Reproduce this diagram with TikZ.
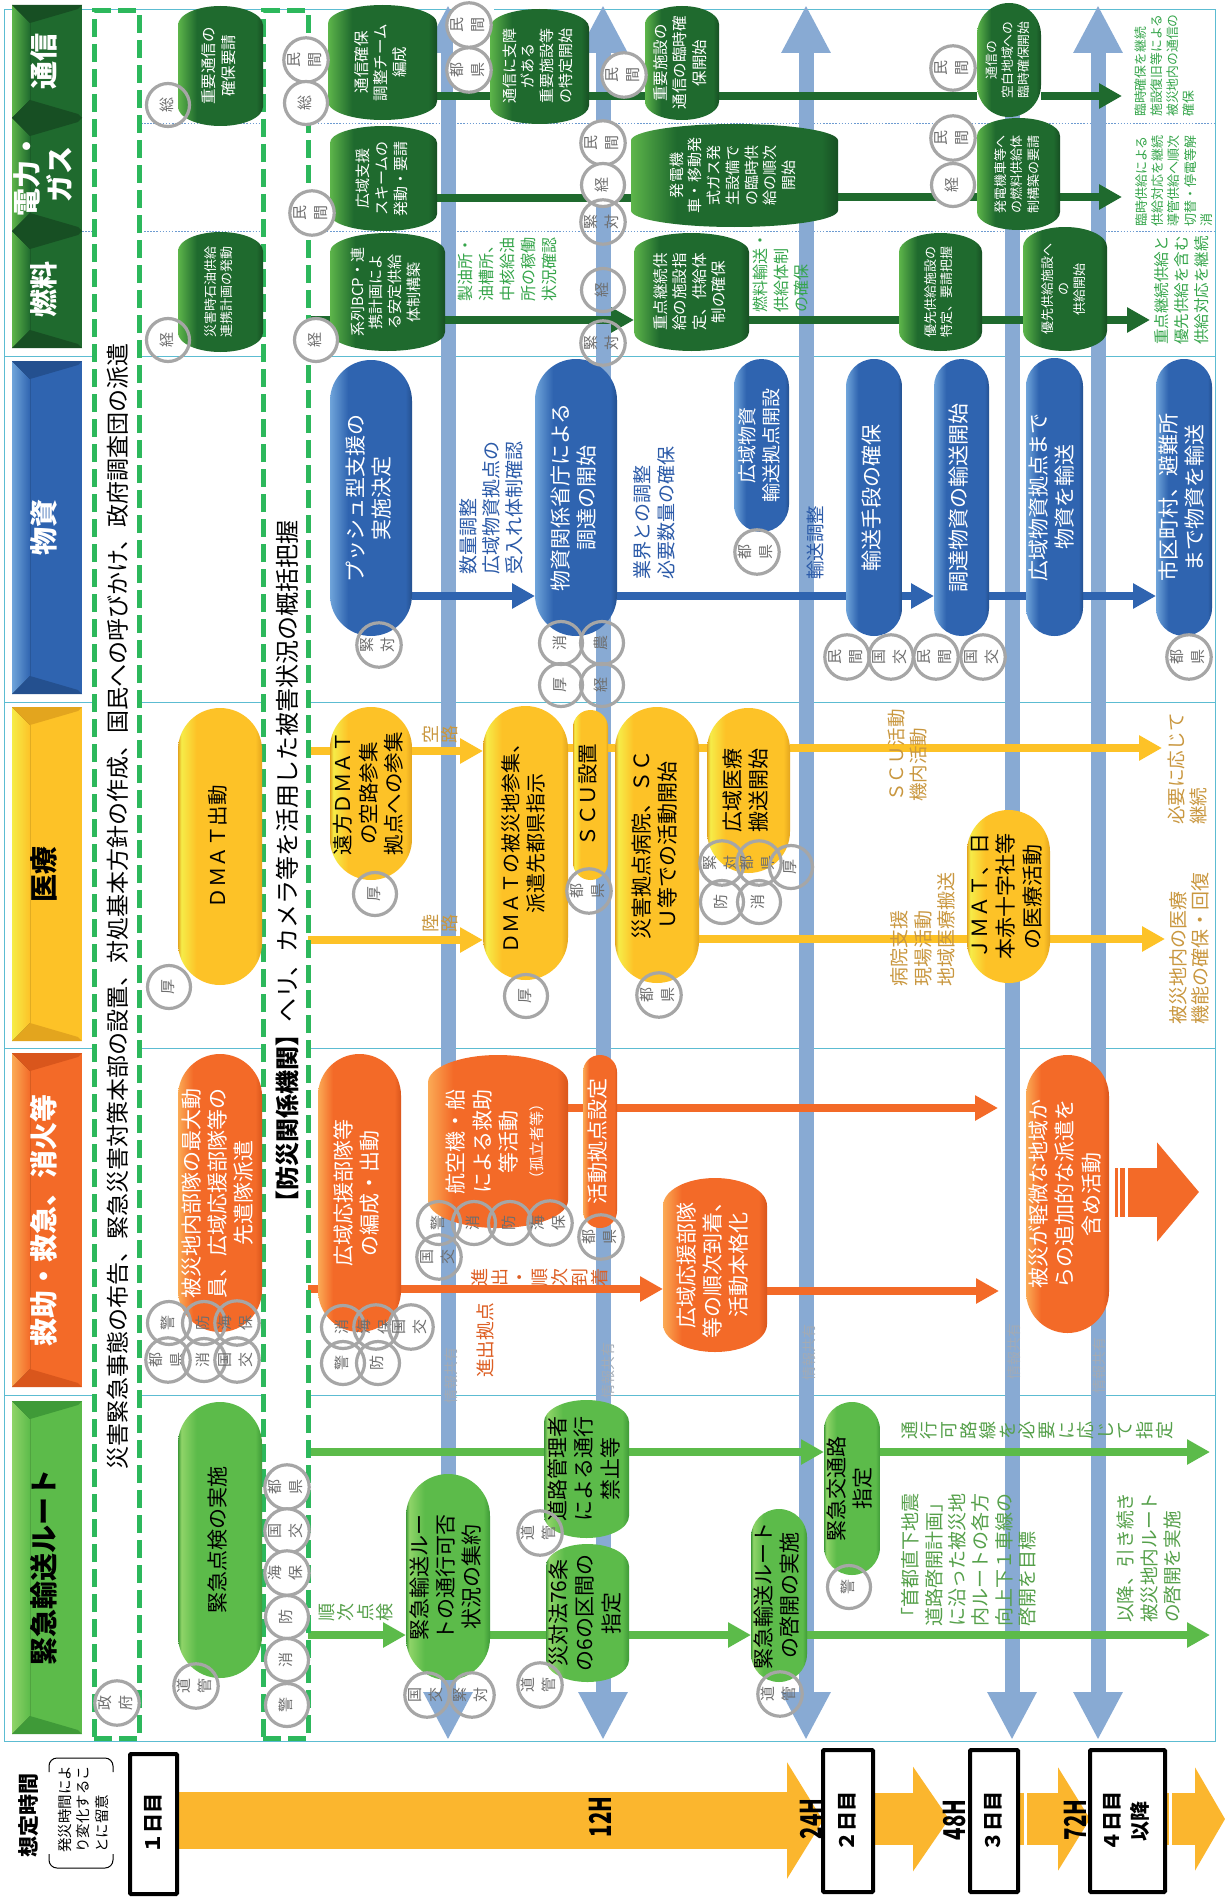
\documentclass[tikz,border=0pt]{standalone}
\usepackage{fontspec}
\usepackage{graphicx}
\setmainfont{Noto Sans CJK JP}
\usetikzlibrary{arrows.meta,shapes.geometric}
\definecolor{baseD}{HTML}{1F6A2E}\definecolor{liteD}{HTML}{5DB54A}\definecolor{darkD}{HTML}{174F23}
\definecolor{baseG}{HTML}{5CBB4A}\definecolor{liteG}{HTML}{8FD468}\definecolor{darkG}{HTML}{3F9A38}
\definecolor{baseB}{HTML}{2F64B0}\definecolor{liteB}{HTML}{6FA4DA}\definecolor{darkB}{HTML}{24508F}
\definecolor{baseY}{HTML}{FDC227}\definecolor{liteY}{HTML}{F6EC48}\definecolor{darkY}{HTML}{E3A51E}
\definecolor{baseO}{HTML}{F36A28}\definecolor{liteO}{HTML}{FBAA55}\definecolor{darkO}{HTML}{D9561C}
\definecolor{barc}{HTML}{88AAD3}
\definecolor{frm}{HTML}{5CBCD2}
\definecolor{dots}{HTML}{6D9BD1}
\definecolor{dashg}{HTML}{2DB85C}
\definecolor{tlc}{HTML}{FBB62E}
\definecolor{lblue}{HTML}{2B5AA8}
\definecolor{lyel}{HTML}{C9973F}
\definecolor{lora}{HTML}{DD5F24}
\definecolor{lgrn}{HTML}{55A04A}
\definecolor{ldg}{HTML}{35A54A}
\definecolor{ringc}{HTML}{A6A6A6}
\definecolor{ringt}{HTML}{6E6E6E}
\definecolor{infot}{HTML}{A3ABB5}
\pgfdeclarehorizontalshading{pillD}{100bp}{color(0bp)=(liteD); color(25bp)=(liteD); color(36bp)=(baseD); color(71bp)=(baseD); color(75bp)=(darkD); color(100bp)=(darkD)}
\pgfdeclarehorizontalshading{pillG}{100bp}{color(0bp)=(darkG); color(25bp)=(darkG); color(27bp)=(liteG); color(36bp)=(baseG); color(71bp)=(baseG); color(75bp)=(darkG); color(100bp)=(darkG)}
\pgfdeclarehorizontalshading{pillB}{100bp}{color(0bp)=(liteB); color(25bp)=(liteB); color(36bp)=(baseB); color(71bp)=(baseB); color(75bp)=(darkB); color(100bp)=(darkB)}
\pgfdeclarehorizontalshading{pillY}{100bp}{color(0bp)=(darkY); color(25bp)=(darkY); color(27bp)=(liteY); color(36bp)=(baseY); color(71bp)=(baseY); color(75bp)=(darkY); color(100bp)=(darkY)}
\pgfdeclarehorizontalshading{pillO}{100bp}{color(0bp)=(liteO); color(25bp)=(liteO); color(34bp)=(baseO); color(71bp)=(baseO); color(75bp)=(darkO); color(100bp)=(darkO)}
\pgfdeclarelayer{bg}
\pgfsetlayers{bg,main}
\tikzset{
  shD/.style={shade,shading=pillD}, shG/.style={shade,shading=pillG}, shB/.style={shade,shading=pillB},
  shY/.style={shade,shading=pillY}, shO/.style={shade,shading=pillO},
  txD/.style={text=white}, txG/.style={text=black}, txB/.style={text=white}, txY/.style={text=black}, txO/.style={text=white},
  conn/.style={line width=7.5pt,-{Triangle[length=23pt,width=24pt]}},
  plain/.style={line width=7.5pt},
  cD/.style={conn,draw=baseD,fill=baseD}, pD/.style={plain,draw=baseD},
  cB/.style={conn,draw=baseB,fill=baseB}, pB/.style={plain,draw=baseB},
  cY/.style={conn,draw=baseY,fill=baseY}, pY/.style={plain,draw=baseY},
  cO/.style={conn,draw=baseO,fill=baseO}, pO/.style={plain,draw=baseO},
  cG/.style={conn,draw=baseG,fill=baseG}, pG/.style={plain,draw=baseG},
  bar/.style={line width=15pt,draw=barc,fill=barc,{Triangle[length=48pt,width=46pt]}-{Triangle[length=48pt,width=46pt]}},
  barone/.style={line width=15pt,draw=barc,fill=barc,{Triangle[length=48pt,width=46pt]}-},
  framel/.style={draw=frm,line width=1pt},
  dotl/.style={draw=dots,line width=1pt,dash pattern=on 1.5pt off 1.6pt},
  dbox/.style={draw=dashg,fill=white,line width=5pt,dash pattern=on 18pt off 7pt,inner sep=0,outer sep=0,minimum width=45pt},
  dayb/.style={draw=black,fill=white,line width=4pt,inner sep=0,outer sep=0,rounded corners=1pt},
  ringw/.style={circle,draw=ringc,line width=3.2pt,fill=white,minimum size=43pt,inner sep=0,text=ringt},
  ringn/.style={circle,draw=ringc,line width=3.2pt,minimum size=43pt,inner sep=0,text=ringt},
  tl/.style={draw=tlc,fill=tlc}
}
\newcommand\vtxt[1]{\rotatebox{90}{\begin{tabular}{@{}c@{}}#1\end{tabular}}}
\newcommand\pill[8]{%
  \pgfmathsetmacro\mypw{#4-#2}\pgfmathsetmacro\myph{#5-#3}%
  \pgfmathsetmacro\mypr{(\myph/\mypw>=1.7)?\mypw/2:0.16*\myph}%
  \pgfmathsetmacro\myprx{\mypw/2}\pgfmathsetmacro\myld{#7*1.25}%
  \path[sh#6] ({#2},{#3+\mypr}) arc[start angle=180,end angle=0,x radius=\myprx pt,y radius=\mypr pt] -- ({#4},{#5-\mypr}) arc[start angle=0,end angle=-180,x radius=\myprx pt,y radius=\mypr pt] -- cycle;
  \node[tx#6,inner sep=0,outer sep=0,minimum width=\mypw pt,minimum height=\myph pt,font=\fontsize{#7}{\myld}\selectfont] (#1) at ({(#2+#4)/2},{(#3+#5)/2}) {\vtxt{#8}};
}
\newcommand\hdr[7]{%
  \fill[base#6] (#2,#3) rectangle (#4,#5);
  \fill[left color=lite#6,right color=base#6] (#2,#3) -- ({#2+18},{#3+18}) -- ({#2+18},{#5-18}) -- (#2,#5) -- cycle;
  \fill[dark#6] (#2,#3) -- ({#2+18},{#3+18}) -- ({#4-4},{#3+4}) -- (#4,#3) -- cycle;
  \fill[dark#6] (#2,#5) -- ({#2+18},{#5-18}) -- ({#4-4},{#5-4}) -- (#4,#5) -- cycle;
  \node[tx#6,inner sep=0,font=\fontsize{28}{32}\selectfont\bfseries] (#1) at ({(#2+#4)/2},{(#3+#5)/2}) {\vtxt{#7}};
}
% name x y colour size leading anchor text
\newcommand\lab[8]{\node[rotate=90,anchor=#7,align=left,text=#4,inner sep=0,font=\fontsize{#5}{#6}\selectfont] (#1) at (#2,#3) {#8};}
\newcommand\labc[7]{\node[rotate=90,align=center,text=#4,inner sep=0,font=\fontsize{#5}{#6}\selectfont] (#1) at (#2,#3) {#7};}
\newcounter{rc}
\newcommand\rw[3]{\stepcounter{rc}\node[ringw,font=\fontsize{15}{21}\selectfont] (rg\arabic{rc}) at (#1,#2) {\vtxt{#3}};}
\newcommand\rn[3]{\stepcounter{rc}\node[ringn,font=\fontsize{15}{21}\selectfont] (rg\arabic{rc}) at (#1,#2) {\vtxt{#3}};}
\begin{document}
\begin{tikzpicture}[x=1pt,y=-1pt]
\useasboundingbox (0,0) rectangle (1225,1897);
\begin{pgfonlayer}{bg}
\fill[white] (0,0) rectangle (1225,1897);
\draw[framel] (4,10) rectangle (1215,1741);
\draw[framel] (4,356) -- (1215,356);
\draw[framel] (4,702) -- (1215,702);
\draw[framel] (4,1048) -- (1215,1048);
\draw[framel] (4,1395) -- (1215,1395);
\draw[dotl] (141,124) -- (1215,124);
\draw[dotl] (82,231) -- (1215,231);
\coordinate (A1t) at (448,5); \coordinate (A1b) at (448,1740);
\coordinate (A2t) at (603,5); \coordinate (A2b) at (603,1740);
\coordinate (A3t) at (806,5); \coordinate (A3b) at (806,1740);
\coordinate (A4t) at (1012,30); \coordinate (A4b) at (1012,1740);
\coordinate (A5t) at (1098,5); \coordinate (A5b) at (1098,1740);
\draw[bar] (A1b) -- (A1t);
\draw[bar] (A2b) -- (A2t);
\draw[bar] (A3b) -- (A3t);
\draw[barone] (A4b) -- (A4t);
\draw[bar] (A5b) -- (A5t);
\fill[white] (453,2) rectangle (494,92);
\end{pgfonlayer}
% dashed bands
\node[dbox,minimum height=1727pt] (box1) at (116.5,874.5) {};
\node[dbox,minimum height=1727pt] (box2) at (285.5,874.5) {};
\lab{t1}{118}{1470}{black}{23}{27}{west}{災害緊急事態の布告、緊急災害対策本部の設置、対処基本方針の作成、国民への呼びかけ、政府調査団の派遣}
\node[rotate=90,anchor=west,text=black,inner sep=0,font=\fontsize{24}{28}\selectfont] (t2) at (287,1215) {\textbf{【防災関係機関】}ヘリ、カメラ等を活用した被害状況の概括把握};
% headers
\hdr{hTs}{12}{5}{82}{118}{D}{通信}
\hdr{hDn}{12}{118}{82}{231}{D}{電力・\\ガス}
\hdr{hNe}{12}{231}{82}{348}{D}{燃料}
\hdr{hBu}{12}{361}{82}{694}{B}{物資}
\hdr{hIr}{12}{707}{82}{1041}{Y}{医療}
\hdr{hKy}{12}{1053}{82}{1387}{O}{救助・救急、消火等}
\hdr{hKi}{12}{1401}{82}{1734}{G}{緊急輸送ルート}
% fuel / power / comms
\pill{a1}{178}{6}{263}{126}{D}{15.5}{重要通信の\\確保要請}
\pill{a2}{328}{5}{437}{120}{D}{15.5}{通信確保\\調整チーム\\編成}
\pill{a3}{490}{9}{589}{124}{D}{15}{通信に支障\\がある\\重要施設等\\の特定開始}
\pill{a4}{645}{6}{719}{120}{D}{15.5}{重要施設の\\通信の臨時確\\保開始}
\pill{a5}{977}{3}{1041}{117}{D}{12.8}{通信の\\空白地域への\\臨時確保開始}
\pill{b1}{330}{126}{437}{231}{D}{15}{広域支援\\スキームの\\発動・要請}
\pill{b2}{631}{124}{838}{227}{D}{15}{発電機\\車・移動発\\式ガス発\\生設備で\\の臨時供\\給の順次\\開始}
\pill{b3}{977}{118}{1060}{230}{D}{13}{発電機車等へ\\の燃料供給体\\制構築の要請}
\pill{c0}{178}{232}{263}{352}{D}{13}{災害時石油供給\\連携計画の発動}
\pill{c1}{330}{233}{445}{351}{D}{15}{系列BCP・連\\携計画によ\\る安定供給\\体制構築}
\pill{c2}{634}{233}{749}{351}{D}{15.5}{重点継続供\\給の施設指\\定、供給体\\制の確保}
\pill{c3}{899}{233}{982}{351}{D}{13}{優先供給施設の\\特定、要請把握}
\pill{c4}{1023}{227}{1107}{351}{D}{13}{優先供給施設へ\\の\\供給開始}
% goods
\pill{e1}{330}{360}{412}{636}{B}{21}{プッシュ型支援の\\実施決定}
\pill{e2}{535}{359}{617}{636}{B}{21}{物資関係省庁による\\調達の開始}
\pill{e3}{734}{359}{789}{532}{B}{19}{広域物資\\輸送拠点開設}
\pill{e4}{846}{359}{902}{636}{B}{21}{輸送手段の確保}
\pill{e5}{934}{359}{989}{636}{B}{21}{調達物資の輸送開始}
\pill{e6}{1026}{358}{1083}{636}{B}{21}{広域物資拠点まで\\物資を輸送}
\pill{e7}{1156}{359}{1212}{636}{B}{21}{市区町村、避難所\\まで物資を輸送}
% medical
\pill{f1}{178}{708}{262}{985}{Y}{20.5}{ＤＭＡＴ出動}
\pill{f2}{330}{707}{412}{880}{Y}{20.5}{遠方ＤＭＡＴ\\の空路参集\\拠点への参集}
\pill{f3}{483}{706}{568}{980}{Y}{20}{ＤＭＡＴの被災地参集、\\派遣先都県指示}
\pill{f4}{573}{710}{608}{880}{Y}{20.5}{ＳＣＵ設置}
\pill{f5}{615}{707}{699}{983}{Y}{21}{災害拠点病院、ＳＣ\\Ｕ等での活動開始}
\pill{f6}{707}{708}{790}{873}{Y}{21}{広域医療\\搬送開始}
\pill{f7}{967}{810}{1050}{983}{Y}{21}{ＪＭＡＴ、日\\本赤十字社等\\の医療活動}
% rescue
\pill{g1}{178}{1054}{262}{1332}{O}{21}{被災地内部隊の最大動\\員、広域応援部隊等の\\先遣隊派遣}
\pill{g2}{318}{1054}{401}{1332}{O}{21}{広域応援部隊等\\の編成・出動}
\pill{g3}{428}{1055}{568}{1228}{O}{21}{航空機・船\\による救助\\等活動\\{\fontsize{15}{20}\selectfont （孤立者等）}}
\pill{g4}{583}{1055}{617}{1228}{O}{21}{活動拠点設定}
\pill{g5}{663}{1178}{767}{1352}{O}{21}{広域応援部隊\\等の順次到着、\\活動本格化}
\pill{g6}{1026}{1055}{1109}{1333}{O}{21}{被災が軽微な地域か\\らの追加的な派遣を\\含め活動}
% routes
\pill{h1}{178}{1402}{262}{1678}{G}{21}{緊急点検の実施}
\pill{h2}{406}{1474}{490}{1680}{G}{21}{緊急輸送ルー\\トの通行可否\\状況の集約}
\pill{h3}{544}{1400}{629}{1538}{G}{21}{道路管理者\\による通行\\禁止等}
\pill{h4}{546}{1544}{629}{1682}{G}{21}{災対法76条\\の6の区間の\\指定}
\pill{h5}{751}{1509}{807}{1682}{G}{21}{緊急輸送ルート\\の啓開の実施}
\pill{h6}{824}{1402}{880}{1575}{G}{21}{緊急交通路\\指定}
% connectors
\begin{pgfonlayer}{bg}
\coordinate (endA) at (1122,96); \coordinate (endB) at (1122,197); \coordinate (endC) at (1150,320);
\draw[pD] (a2.east |- 0,96) -- (a3.west |- 0,96);
\draw[pD] (a3.east |- 0,96) -- (a4.west |- 0,96);
\draw[pD] (a4.east |- 0,96) -- (a5.west |- 0,96);
\draw[cD] (a5.east |- 0,96) -- (endA);
\draw[pD] (b1.east |- 0,198) -- (b2.west |- 0,198);
\draw[pD] (b2.east |- 0,197) -- (b3.west |- 0,197);
\draw[cD] (b3.east |- 0,197) -- (endB);
\draw[pD] (box2.east |- 0,320) -- (c1.west |- 0,320);
\draw[cD] (c1.east |- 0,320) -- (c2.west |- 0,320);
\draw[pD] (c2.east |- 0,320) -- (c3.west |- 0,320);
\draw[pD] (c3.east |- 0,320) -- (c4.west |- 0,320);
\draw[cD] (c4.east |- 0,320) -- (endC);
\draw[cB] (e1.east |- 0,596) -- (e2.west |- 0,596);
\draw[cB] (e2.east |- 0,596) -- (e5.west |- 0,596);
\draw[pB] (e5.east |- 0,596) -- (e6.west |- 0,596);
\draw[cB] (e6.east |- 0,596) -- (e7.west |- 0,596);
\coordinate (endF) at (1162,748); \coordinate (endJ) at (1165,939);
\draw[cY] (box2.east |- 0,751) -- (f3.west |- 0,751);
\draw[cY] (box2.east |- 0,940) -- (f3.west |- 0,940);
\draw[pY] (f3.east |- 0,748) -- (f4.west |- 0,748);
\draw[pY] (f4.east |- 0,748) -- (f5.west |- 0,748);
\draw[pY] (f5.east |- 0,748) -- (f6.west |- 0,748);
\draw[cY] (f6.east |- 0,748) -- (endF);
\draw[pY] (f5.east |- 0,939) -- (f7.west |- 0,939);
\draw[cY] (f7.east |- 0,939) -- (endJ);
\coordinate (endG) at (998,1108); \coordinate (endH) at (999,1291);
\draw[pO] (g3.east |- 0,1108) -- (g4.west |- 0,1108);
\draw[cO] (g4.east |- 0,1108) -- (endG);
\draw[cO] (box2.east |- 0,1289) -- (g5.west |- 0,1289);
\draw[cO] (g5.east |- 0,1291) -- (endH);
\coordinate (endK) at (1210,1452); \coordinate (endL) at (1210,1635);
\draw[pG] (box2.east |- 0,1452) -- (h3.west |- 0,1452);
\draw[cG] (h3.east |- 0,1452) -- (h6.west |- 0,1452);
\draw[cG] (h6.east |- 0,1452) -- (endK);
\draw[cG] (box2.east |- 0,1635) -- (h2.west |- 0,1635);
\draw[pG] (h2.east |- 0,1635) -- (h4.west |- 0,1635);
\draw[cG] (h4.east |- 0,1635) -- (h5.west |- 0,1635);
\draw[cG] (h5.east |- 0,1635) -- (endL);
\end{pgfonlayer}
% big orange arrow
\coordinate (bgS) at (1128,1192); \coordinate (bgT) at (1199,1192);
\draw[line width=49pt,draw=baseO,fill=baseO,-{Triangle[length=42pt,width=97pt]}] (bgS) -- (bgT);
\coordinate (st1a) at (1115,1192); \coordinate (st1b) at (1118,1192);
\coordinate (st2a) at (1120,1192); \coordinate (st2b) at (1125,1192);
\draw[line width=49pt,draw=baseO] (st1a) -- (st1b);
\draw[line width=49pt,draw=baseO] (st2a) -- (st2b);
% info-sharing labels
\labc{i1}{451}{1375}{infot}{14}{16}{情報共有}
\labc{i2}{608}{1370}{infot}{14}{16}{情報共有}
\labc{i3}{809}{1352}{infot}{14}{16}{情報共有}
\labc{i4}{1014}{1351}{infot}{14}{16}{情報共有}
\labc{i5}{1099}{1365}{infot}{14}{16}{情報共有}
% fuel row labels
\lab{l1}{507}{302}{ldg}{16}{21}{west}{製油所・\\油槽所、\\中核給油\\所の稼働\\状況確認}
\lab{l2}{781}{313}{ldg}{16}{20.5}{west}{燃料輸送・\\供給体制\\の確保}
\lab{l3}{1165}{117}{ldg}{12.8}{16}{west}{臨時確保を継続\\施設復旧等による\\被災地内の通信の\\確保}
\lab{l4}{1174}{227}{ldg}{13}{16.3}{west}{臨時供給による\\供給対応を継続\\導管供給へ順次\\切替・停電等解\\消}
\lab{l5}{1182}{345}{ldg}{15.5}{20}{west}{重点継続供給と\\優先供給を含む\\供給対応を継続}
% goods labels
\lab{l6}{491}{575}{lblue}{19}{23}{west}{数量調整\\広域物資拠点の\\受入れ体制確認}
\lab{l7}{654}{580}{lblue}{19}{24}{west}{業界との調整\\必要数量の確保}
\lab{l8}{816}{580}{lblue}{18.5}{22}{west}{輸送調整}
% medical labels
\labc{l9}{440}{734}{lyel}{18}{18.5}{空\\路}
\labc{l10}{440}{923}{lyel}{18}{18.5}{陸\\路}
\lab{l11}{908}{802}{lyel}{18.5}{22}{west}{ＳＣＵ活動\\機内活動}
\lab{l12}{923}{987}{lyel}{19}{23.5}{west}{病院支援\\現場活動\\地域医療搬送}
\lab{l13}{1187}{825}{lyel}{18.6}{22}{west}{必要に応じて\\継続}
\lab{l14}{1189}{1025}{lyel}{19}{22}{west}{被災地内の医療\\機能の確保・回復}
% rescue labels
\labc{l15}{540}{1277}{lora}{18}{20}{進\\出\\・\\順\\次\\到\\着}
\lab{l16}{485}{1378}{lora}{18.7}{22}{west}{進出拠点}
% route labels
\labc{l17}{356}{1612}{lgrn}{18}{19.6}{順\\次\\点\\検}
\labc{l18}{1037}{1430}{lgrn}{18}{19.6}{通\\行\\可\\路\\線\\を\\必\\要\\に\\応\\じ\\て\\指\\定}
\lab{l19}{969}{1627}{lgrn}{19}{23.4}{west}{「首都直下地震\\道路啓開計画」\\に沿った被災地\\内ルートの各方\\向上下１車線の\\啓開を目標}
\lab{l20}{1149}{1623}{lgrn}{18.6}{23.4}{west}{以降、引き続き\\被災地内ルート\\の啓開を実施}
% rings
\rn{168}{105}{総}
\rw{306}{60}{民\\間}
\rw{306}{103}{総}
\rw{469}{25}{民\\間}
\rw{469}{70}{都\\県}
\rw{624}{75}{民\\間}
\rw{603}{143}{民\\間}
\rw{603}{185}{経}
\rn{603}{222}{緊\\対}
\rw{312}{213}{民\\間}
\rn{168}{340}{経}
\rw{316}{340}{経}
\rn{603}{290}{経}
\rn{603}{343}{緊\\対}
\rw{953}{68}{民\\間}
\rw{953}{138}{民\\間}
\rw{953}{185}{経}
\rn{379}{645}{緊\\対}
\rn{561}{643}{消}
\rn{602}{643}{農}
\rn{561}{685}{厚}
\rn{602}{685}{経}
\rn{757}{552}{都\\県}
\rn{847}{657}{民\\間}
\rn{891}{657}{国\\交}
\rn{936}{657}{民\\間}
\rn{983}{657}{国\\交}
\rn{1189}{657}{都\\県}
\rn{169}{987}{厚}
\rn{375}{894}{厚}
\rn{526}{996}{厚}
\rn{589}{891}{都\\県}
\rn{659}{995}{都\\県}
\rn{722}{863}{緊\\対}
\rn{759}{863}{都\\県}
\rn{791}{867}{厚}
\rn{722}{902}{防}
\rn{759}{902}{消}
\rn{169}{1323}{警}
\rn{204}{1323}{防}
\rn{237}{1323}{海\\保}
\rn{168}{1360}{都\\県}
\rn{204}{1360}{消}
\rn{237}{1360}{国\\交}
\rn{343}{1327}{消}
\rn{376}{1327}{海\\保}
\rn{411}{1327}{国\\交}
\rn{343}{1363}{警}
\rn{378}{1363}{防}
\rn{439}{1223}{警}
\rn{474}{1223}{消}
\rn{510}{1223}{防}
\rn{550}{1223}{海\\保}
\rn{439}{1257}{国\\交}
\rn{601}{1237}{都\\県}
\rw{117}{1703}{政\\府}
\rn{196}{1686}{道\\管}
\rw{287}{1487}{都\\県}
\rw{287}{1531}{国\\交}
\rw{287}{1573}{海\\保}
\rw{287}{1617}{防}
\rw{287}{1660}{消}
\rw{287}{1705}{警}
\rn{427}{1695}{国\\交}
\rn{472}{1695}{緊\\対}
\rn{540}{1533}{道\\管}
\rn{540}{1685}{道\\管}
\rn{780}{1694}{道\\管}
\rn{849}{1587}{警}
% timeline
\node[inner sep=0,font=\fontsize{21}{25}\selectfont\bfseries] (tm) at (31,1815) {\vtxt{想定時間}};
\lab{tn}{83}{1853}{black}{14.5}{18.5}{west}{発災時間によ\\り変化するこ\\とに留意}
\draw[line width=1pt,rounded corners=8pt] (49,1772) -- (49,1758) -- (113,1758) -- (113,1772);
\draw[line width=1pt,rounded corners=8pt] (49,1854) -- (49,1868) -- (113,1868) -- (113,1854);
\node[dayb,minimum width=47pt,minimum height=140pt] (d1) at (153.5,1824) {};
\node[dayb,minimum width=50pt,minimum height=142pt] (d2) at (848,1821) {};
\node[dayb,minimum width=48pt,minimum height=142pt] (d3) at (994,1821) {};
\node[dayb,minimum width=75pt,minimum height=142pt] (d4) at (1127.5,1821) {};
\begin{pgfonlayer}{bg}
\coordinate (y2) at (949,1819); \coordinate (s3) at (1024,1819); \coordinate (s3b) at (1027,1819);
\coordinate (s4) at (1169,1819); \coordinate (s4b) at (1172,1819); \coordinate (y4) at (1225,1819);
\draw[tl,line width=57pt,-{Triangle[length=36pt,width=115pt]}] (d1.east |- 0,1820.5) -- (d2.west |- 0,1820.5);
\draw[tl,line width=52pt,-{Triangle[length=36pt,width=103pt]}] (d2.east |- 0,1819) -- (y2);
\draw[tl,line width=52pt] (d3.east |- 0,1819) -- (s3);
\draw[tl,line width=52pt,-{Triangle[length=32pt,width=102pt]}] (s3b) -- (d4.west |- 0,1819);
\draw[tl,line width=52pt] (d4.east |- 0,1819) -- (s4);
\draw[tl,line width=52pt,-{Triangle[length=30pt,width=102pt]}] (s4b) -- (y4);
\end{pgfonlayer}
\node[inner sep=0,font=\fontsize{20}{30}\selectfont\bfseries] (d1t) at (154,1823) {\vtxt{１日目}};
\node[inner sep=0,font=\fontsize{20}{30}\selectfont\bfseries] (d2t) at (848,1821) {\vtxt{２日目}};
\node[inner sep=0,font=\fontsize{20}{30}\selectfont\bfseries] (d3t) at (994,1821) {\vtxt{３日目}};
\node[inner sep=0,font=\fontsize{20}{28}\selectfont\bfseries] (d4t) at (1127.5,1821) {\vtxt{４日目\\以降}};
\node[rotate=90,inner sep=0,font=\fontsize{30}{34}\selectfont\bfseries] (h12) at (600,1817) {\scalebox{0.68}[1]{12H}};
\node[rotate=90,inner sep=0,font=\fontsize{30}{34}\selectfont\bfseries] (h24) at (811,1819) {\scalebox{0.68}[1]{24H}};
\node[rotate=90,inner sep=0,font=\fontsize{30}{34}\selectfont\bfseries] (h48) at (955,1820) {\scalebox{0.68}[1]{48H}};
\node[rotate=90,inner sep=0,font=\fontsize{30}{34}\selectfont\bfseries] (h72) at (1075,1820) {\scalebox{0.68}[1]{72H}};
\end{tikzpicture}
\end{document}
